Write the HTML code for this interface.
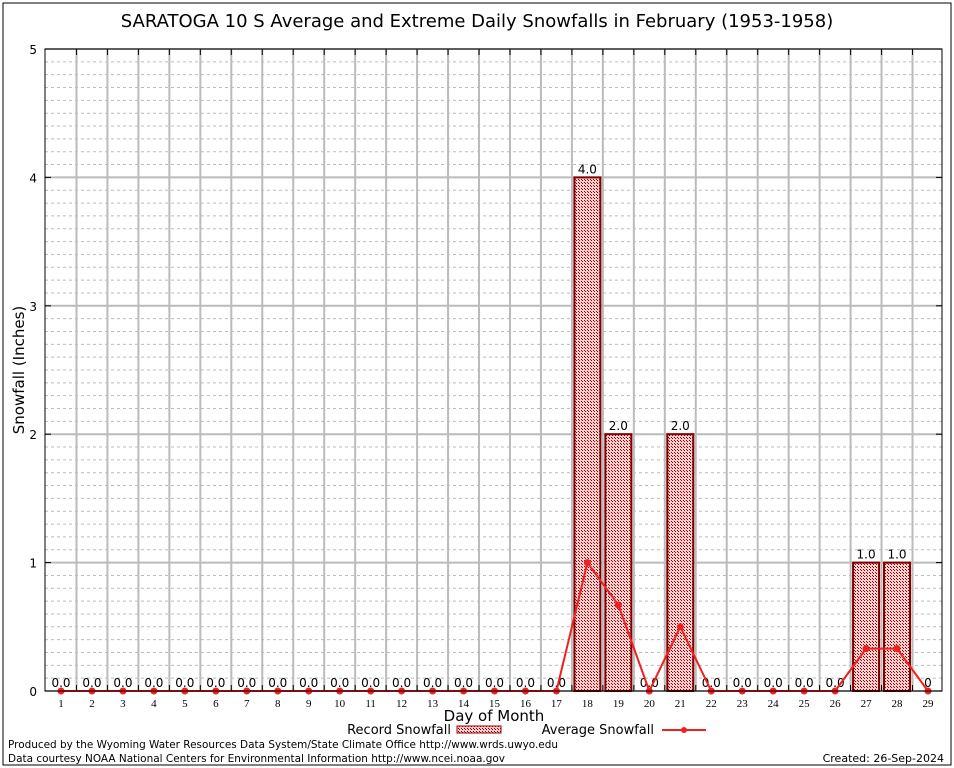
<!DOCTYPE html>
<html><head><meta charset="utf-8"><style>
body{margin:0;background:#fff;}
svg{display:block;font-family:"DejaVu Sans","Liberation Sans",sans-serif;}
</style></head><body>
<svg id="c" width="954" height="768">
<defs><pattern id="hatch" width="3" height="3" patternUnits="userSpaceOnUse"><rect width="3" height="3" fill="#f4d0d0"/><rect width="1" height="1" fill="#a00000"/><rect x="2" y="2" width="1" height="1" fill="#a00000"/></pattern></defs>
<rect x="3" y="3" width="948" height="762" fill="none" stroke="#000"/>
<text x="477" y="27" font-size="18" text-anchor="middle">SARATOGA 10 S Average and Extreme Daily Snowfalls in February (1953-1958)</text>
<g id="grid"></g><g id="bars"></g><g id="line"></g><g id="axes"></g>
<text transform="translate(24,370) rotate(-90)" font-size="15" text-anchor="middle">Snowfall (Inches)</text>
<text x="494" y="721" font-size="15" text-anchor="middle">Day of Month</text>
<g><text x="451" y="734" font-size="13" text-anchor="end">Record Snowfall</text><rect x="457" y="726" width="44" height="7" fill="url(#hatch)" stroke="#a00000"/></g>
<g><text x="654" y="734" font-size="13" text-anchor="end">Average Snowfall</text><line x1="662" y1="730" x2="706" y2="730" stroke="#f02020" stroke-width="2"/><circle cx="684" cy="730" r="3" fill="#f02020"/></g>
<text x="8" y="748" font-size="11" textLength="550" lengthAdjust="spacingAndGlyphs">Produced by the Wyoming Water Resources Data System/State Climate Office http://www.wrds.uwyo.edu</text>
<text x="8" y="762" font-size="11" textLength="497" lengthAdjust="spacingAndGlyphs">Data courtesy NOAA National Centers for Environmental Information http://www.ncei.noaa.gov</text>
<text x="944" y="762" font-size="11" text-anchor="end">Created:  26-Sep-2024</text>
</svg>
<script>
const days=[1,2,3,4,5,6,7,8,9,10,11,12,13,14,15,16,17,18,19,20,21,22,23,24,25,26,27,28,29];
const records=[0,0,0,0,0,0,0,0,0,0,0,0,0,0,0,0,0,4,2,0,2,0,0,0,0,0,1,1,0];
const recordLabels=["0.0","0.0","0.0","0.0","0.0","0.0","0.0","0.0","0.0","0.0","0.0","0.0","0.0","0.0","0.0","0.0","0.0","4.0","2.0","0.0","2.0","0.0","0.0","0.0","0.0","0.0","1.0","1.0","0"];
const averages=[0,0,0,0,0,0,0,0,0,0,0,0,0,0,0,0,0,1.0,0.67,0,0.5,0,0,0,0,0,0.33,0.33,0];
const yTicks=[0,1,2,3,4,5];
const NS="http://www.w3.org/2000/svg";
const L=45,R=942,T=49,B=691;
const x=d=>61+(d-1)*(928-61)/28;
const y=v=>B-(v/5)*(B-T);
function mk(p,t,a){const e=document.createElementNS(NS,t);for(const k in a)e.setAttribute(k,a[k]);document.getElementById(p).appendChild(e);return e;}
for(let i=1;i<50;i++){if(i%10==0)continue;const l=mk('grid','line',{x1:L,x2:R,y1:y(i/10),y2:y(i/10),stroke:'#bbb','stroke-dasharray':'3,3'});

}
yTicks.forEach(v=>{const l=mk('grid','line',{x1:L,x2:R,y1:y(v),y2:y(v),stroke:'#bbb','stroke-width':2});


const t=mk('axes','text',{x:37,y:y(v)+5,'font-size':12,'text-anchor':'end'});t.textContent=v;


mk('axes','line',{x1:L,x2:L+6,y1:y(v),y2:y(v),stroke:'#000'});mk('axes','line',{x1:R-6,x2:R,y1:y(v),y2:y(v),stroke:'#000'});});
for(let d=1;d<29;d++){const xx=x(d+0.5);const l=mk('grid','line',{x1:xx,x2:xx,y1:T,y2:B,stroke:'#bbb','stroke-width':2});


mk('axes','line',{x1:xx,x2:xx,y1:T,y2:T+6,stroke:'#000'});mk('axes','line',{x1:xx,x2:xx,y1:B-6,y2:B,stroke:'#000'});}
days.forEach((d,i)=>{
if(records[i]>0){const b=mk('bars','rect',{x:x(d)-13,y:y(records[i]),width:26,height:B-y(records[i]),fill:'url(#hatch)',stroke:'#800000','stroke-width':2});

}
const v=mk('bars','text',{x:x(d),y:y(records[i])-4,'font-size':12,'text-anchor':'middle'});v.textContent=recordLabels[i];


const t=mk('axes','text',{x:x(d),y:B+16,'font-size':11,'text-anchor':'middle','font-family':'Liberation Serif,serif'});t.textContent=d;

});
const pl=mk('line','polyline',{points:days.map((d,i)=>x(d)+','+y(averages[i])).join(' '),fill:'none',stroke:'#f02020','stroke-width':2});


days.forEach((d,i)=>{const c=mk('line','circle',{cx:x(d),cy:y(averages[i]),r:3.5,fill:'#f02020'});

});
const f=mk('axes','rect',{x:L,y:T,width:R-L,height:B-T,fill:'none',stroke:'#000'});


</script>
</body></html>
